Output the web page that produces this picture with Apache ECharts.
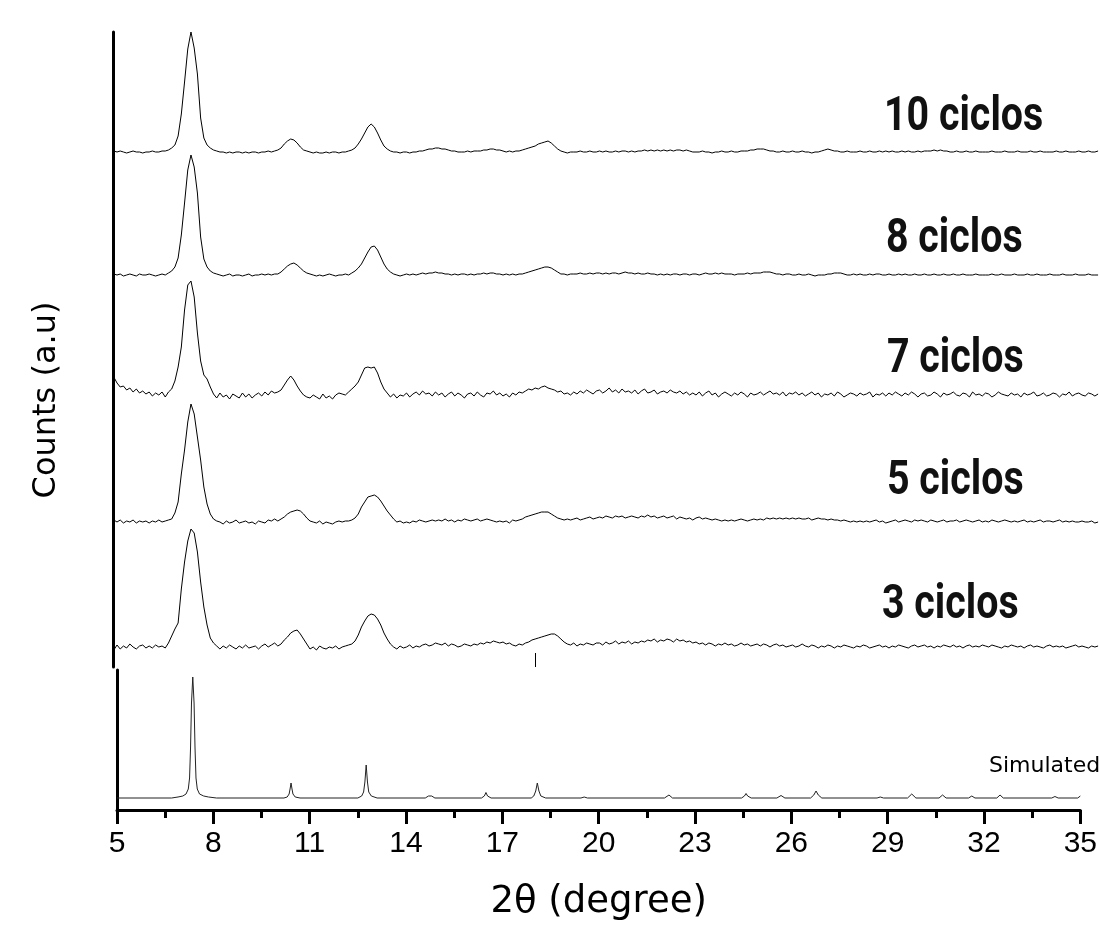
<!DOCTYPE html>
<html>
<head>
<meta charset="utf-8">
<script src="https://cdn.jsdelivr.net/npm/echarts@6/dist/echarts.min.js"></script>
<style>html,body{margin:0;padding:0;background:#fff}#c{width:1100px;height:928px}</style>
</head>
<body>
<div id="c"></div>
<script>
// Measurement grid of the experimental patterns (2θ, degrees)
const scanStart = 4.9;
const scanStep = 0.1;

// Experimental patterns: intensity above each pattern's baseline (a.u.), 4.9° .. 35.5°
const ciclos10 = [
1,
0, 1, 0, -1, 0, 1, 0, 0, -1, 0,
0, 1, 0, 0, 1, 1, 2, 4, 7, 16,
38, 70, 103, 120, 104, 78, 34, 14, 7, 4,
2, 1, 0, 0, -1, 0, -1, 0, 0, -1,
0, -1, 0, 0, -1, 0, 0, 1, 0, 1,
2, 4, 8, 11, 13, 12, 9, 5, 2, 1,
0, -1, 0, -1, -1, 0, -1, 0, 0, -1,
0, 0, 1, 2, 4, 8, 13, 19, 25, 28,
25, 19, 12, 6, 3, 1, 0, 0, -1, 0,
0, -1, 0, 0, 1, 1, 2, 3, 3, 4,
4, 3, 3, 2, 1, 1, 0, 0, 0, 1,
0, 1, 1, 1, 2, 2, 3, 3, 2, 2,
1, 0, 1, 0, 1, 1, 2, 3, 4, 5,
6, 8, 9, 10, 11, 9, 6, 3, 1, 0,
-1, 0, 0, 0, 1, 0, 0, 1, 0, 0,
1, 0, 1, 0, 0, 1, 0, 1, 1, 0,
1, 0, 1, 1, 2, 1, 2, 1, 2, 1,
2, 1, 2, 1, 2, 2, 1, 2, 1, 0,
0, 0, 1, 0, 0, -1, 0, 0, 1, 0,
0, 1, 0, 0, 1, 1, 1, 2, 2, 3,
3, 3, 2, 1, 1, 0, 0, 1, 0, 0,
1, 0, 0, 1, 0, 0, -1, 0, 0, 1,
2, 3, 2, 1, 1, 0, 0, 1, 0, 0,
0, 1, 0, 0, 1, 0, 0, 1, 0, 1,
0, 1, 0, 0, 1, 0, 1, 0, 0, 1,
0, 1, 1, 1, 2, 1, 2, 1, 1, 0,
0, 1, 0, 0, 1, 0, 0, 1, 0, 0,
0, 0, 1, 0, 0, 0, 1, 0, 0, 0,
1, 0, 0, 0, 1, 0, 0, 1, 0, 0,
0, 0, 1, 0, 0, 1, 0, 0, 0, 1,
0, 0, 1, 0, 0, 1
];

const ciclos8 = [
1,
0, 1, -1, 0, 1, 0, -1, 1, 0, 0,
1, 0, -1, 0, 1, 0, 2, 4, 8, 17,
40, 72, 105, 120, 108, 82, 38, 16, 8, 4,
2, 1, 0, -1, 0, 1, -1, 0, 0, -1,
0, 1, -1, 0, 0, 1, 0, 1, 0, 1,
1, 3, 6, 9, 11, 12, 10, 7, 4, 2,
1, 0, -1, 0, -1, 0, 1, 0, -1, 0,
0, 1, 0, 2, 4, 7, 11, 17, 23, 28,
29, 25, 18, 11, 6, 3, 1, 0, -1, 0,
1, 0, 1, 0, 1, 2, 1, 2, 2, 3,
2, 2, 1, 1, 0, 1, 0, 1, 1, 0,
1, 0, 1, 1, 2, 1, 2, 2, 1, 1,
0, 1, 0, 1, 0, 1, 1, 2, 3, 4,
5, 6, 7, 8, 8, 7, 5, 3, 1, 1,
0, 1, 1, 1, 2, 1, 1, 2, 1, 2,
2, 1, 2, 1, 2, 2, 1, 2, 3, 2,
2, 1, 2, 1, 1, 2, 1, 1, 0, 1,
0, 1, 0, 1, 1, 0, 1, 1, 0, 1,
1, 0, 1, 2, 1, 1, 2, 1, 2, 1,
1, 1, 0, 1, 1, 1, 2, 1, 2, 2,
2, 3, 3, 3, 2, 1, 1, 0, 1, 1,
0, 0, 1, 0, 0, 1, 0, -1, 0, 0,
0, 1, 1, 2, 2, 2, 1, 0, 0, 1,
0, 1, 0, 0, 1, 0, 1, 1, 0, 0,
1, 0, 0, 1, 0, 1, 0, 0, 1, 0,
0, 1, 0, 0, 1, 0, 0, 1, 0, 0,
1, 0, 0, 1, 0, 0, 0, 1, 0, 0,
0, 0, 1, 0, 0, 1, 0, 0, 0, 1,
0, 0, 0, 1, 0, 0, 1, 0, 0, 0,
1, 0, 0, 0, 1, 0, 0, 0, 1, 0,
0, 0, 1, 0, 0, 0
];

const ciclos7 = [
18,
12, 8, 9, 5, 7, 3, 6, 2, 4, 1,
3, -1, 2, 0, 3, -2, 3, 6, 14, 28,
48, 85, 110, 114, 98, 62, 34, 20, 16, 8,
1, -3, 2, -2, 0, -4, 1, -1, -3, 2,
-2, 1, -3, 0, 2, -1, 3, 0, 4, 2,
3, 5, 10, 15, 19, 15, 9, 4, 0, -2,
-3, 0, -2, -4, 1, -3, -1, -4, 0, 2,
1, 0, 3, 6, 9, 13, 20, 27, 28, 27,
28, 22, 13, 6, 2, -2, 1, -3, 0, -1,
2, -2, 1, 3, 0, 4, 1, 2, -1, 3,
0, 2, -2, 1, 3, -1, 2, 0, -3, 1,
2, -1, 3, 0, -2, 2, 1, 4, 0, 2,
-1, 1, -2, 2, 0, 3, 2, 4, 6, 5,
7, 6, 8, 9, 7, 6, 5, 3, 4, 1,
2, 0, 3, 1, 4, 2, 5, 3, 1, 4,
5, 2, 4, 7, 3, 5, 2, 6, 3, 4,
2, 5, 1, 4, 6, 2, 3, 5, 1, 3,
4, 2, 5, 3, 2, 4, 1, 3, 0, 2,
0, 3, -1, 2, 4, 0, 2, -2, 1, 3,
1, -1, 2, 0, 3, 1, -2, 2, 0, 1,
3, 0, 2, 4, 1, 2, 0, 3, -1, 2,
1, 3, 0, 2, -1, 1, 3, 0, 2, -2,
1, 0, 2, -1, 3, 1, -2, 0, 2, 1,
-1, 2, 0, 1, 3, -2, 1, 0, 2, -1,
2, 0, 3, 1, -1, 2, 0, 3, 1, -2,
1, 2, -1, 0, 3, 1, -2, 2, 0, 1,
3, 0, -1, 2, 1, -2, 3, 0, 1, -1,
2, 1, -2, 0, 3, 1, 0, -1, 2, 0,
1, -2, 2, 0, 1, 3, -1, 0, 2, -1,
0, 2, 1, -2, 1, 0, 3, -1, 1, 2,
0, -1, 2, 1, -1, 1
];

const ciclos5 = [
2,
0, 2, -1, 1, 0, 2, -1, 1, 0, 1,
-1, 1, 0, 2, 0, 1, 2, 3, 9, 20,
48, 72, 100, 118, 108, 85, 62, 35, 18, 8,
3, 1, 0, -2, 1, -1, 0, 2, -1, 0,
1, -1, 0, -2, 1, 0, -1, 2, 1, 3,
1, 3, 5, 8, 10, 11, 12, 11, 8, 4,
1, 0, -1, 1, -2, 0, -1, -2, 0, 1,
0, 1, 1, 2, 4, 8, 15, 20, 25, 26,
27, 25, 21, 16, 11, 7, 3, 0, 1, -1,
0, -1, 1, 0, 2, 1, 0, 1, 2, 1,
2, 1, 3, 1, 2, 0, 2, 1, 3, 2,
1, 2, 3, 1, 2, 3, 2, 1, 0, 1,
0, 1, -1, 2, 1, 2, 3, 5, 6, 7,
8, 9, 10, 10, 10, 8, 6, 4, 3, 2,
3, 2, 3, 4, 2, 3, 4, 5, 3, 4,
5, 4, 6, 5, 4, 6, 5, 6, 4, 5,
6, 5, 4, 6, 5, 7, 5, 6, 4, 5,
6, 4, 5, 6, 3, 5, 4, 3, 4, 2,
4, 5, 3, 4, 3, 2, 3, 2, 1, 2,
1, 2, 1, 2, 3, 2, 1, 2, 3, 2,
3, 2, 4, 3, 4, 3, 4, 3, 4, 3,
4, 3, 4, 3, 3, 4, 2, 3, 4, 3,
3, 2, 3, 2, 2, 1, 2, 1, 0, 1,
0, 1, 0, 1, 0, 1, 2, 0, 1, -1,
0, 1, 2, 0, 1, 2, 1, 0, 2, 1,
2, 1, 0, 2, 1, 0, 1, 2, 0, 1,
1, 2, 0, 1, 2, 1, 0, 1, 2, 0,
1, 0, 2, 1, 0, 1, 2, 1, 0, 1,
0, 1, 2, 0, 1, 0, 1, 2, 0, 1,
1, 0, 1, 2, 0, 1, 0, 1, 0, 0,
1, 0, 0, 1, -1, 0
];

const ciclos3 = [
-3,
2, -2, 1, -1, 3, 0, -2, 1, 2, -1,
1, -1, 2, 0, 1, -1, 4, 11, 18, 24,
58, 85, 106, 118, 114, 95, 65, 40, 22, 9,
4, 1, -2, 1, -1, 2, 0, -2, 1, -1,
2, -1, 0, 1, -2, 1, 3, 0, 2, 4,
1, 3, 7, 10, 14, 16, 17, 13, 8, 3,
-2, 0, -3, 1, -1, -2, 0, -1, 1, -2,
0, 1, 2, 3, 6, 12, 20, 26, 31, 33,
32, 28, 22, 14, 8, 3, 0, -2, 1, -1,
0, 2, -1, 1, 0, 2, 3, 1, 2, 4,
3, 2, 4, 1, 3, 2, 0, 1, 3, 2,
1, 3, 2, 4, 3, 5, 4, 6, 5, 4,
5, 3, 4, 2, 1, 3, 2, 4, 5, 7,
8, 9, 10, 11, 12, 13, 13, 11, 8, 5,
3, 2, 4, 1, 3, 2, 4, 3, 2, 4,
4, 2, 5, 3, 4, 6, 3, 5, 4, 6,
3, 5, 4, 6, 5, 7, 6, 8, 5, 7,
6, 8, 7, 5, 8, 6, 7, 5, 6, 4,
5, 3, 4, 2, 4, 3, 1, 3, 2, 4,
2, 3, 1, 2, 4, 2, 3, 1, 2, 3,
1, 3, 2, 0, 2, 3, 1, 2, 0, 1,
2, 0, 1, 3, 1, 0, 2, 1, -1, 1,
0, 2, 1, -1, 1, 0, 2, 1, 0, -1,
1, 0, 2, 1, -1, 0, 1, 2, 0, 1,
-1, 1, 0, 2, 1, 0, -1, 1, 2, 0,
1, 2, 0, 1, -1, 1, 0, 2, 1, 0,
2, 0, 1, -1, 1, 2, 0, 1, 0, 2,
1, 0, 2, 1, 0, -1, 1, 0, 2, 1,
0, 1, -1, 1, 2, 0, 1, 0, -1, 1,
2, 0, 1, 0, 1, -1, 0, 1, 2, 0,
1, 0, -1, 1, 0, 1
];

// Stacking offsets (a.u.) of each experimental pattern
const patternNames = ['10 ciclos', '8 ciclos', '7 ciclos', '5 ciclos', '3 ciclos'];
const patternOffsets = [515, 392, 272, 145, 20];

// Simulated pattern: [2θ, intensity]
const simulated = [
[5.0, 0], [6.7, 0], [6.9, 1], [7.05, 2], [7.15, 4], [7.22, 9], [7.26, 20], [7.29, 50], [7.32, 95], [7.36, 121],
[7.40, 95], [7.43, 50], [7.46, 20], [7.50, 9], [7.57, 4], [7.7, 2], [7.85, 1], [8.1, 0],
[10.2, 0], [10.3, 1], [10.36, 4], [10.39, 9], [10.42, 15], [10.45, 9], [10.48, 4], [10.55, 1], [10.7, 0],
[12.5, 0], [12.62, 2], [12.68, 6], [12.72, 16], [12.76, 33], [12.80, 16], [12.84, 6], [12.92, 2], [13.1, 0],
[14.6, 0], [14.7, 2], [14.75, 4], [14.8, 2], [14.9, 0],
[16.35, 0], [16.44, 2], [16.49, 5.5], [16.54, 2], [16.65, 0],
[17.9, 0], [17.98, 2], [18.04, 7], [18.09, 15], [18.14, 7], [18.2, 2], [18.35, 0],
[19.45, 0], [19.55, 1], [19.65, 0],
[22.05, 0], [22.19, 3], [22.3, 0],
[24.45, 0], [24.54, 2], [24.59, 4.5], [24.64, 2], [24.75, 0],
[25.55, 0], [25.68, 2.5], [25.8, 0],
[26.6, 0], [26.7, 3], [26.77, 7], [26.84, 3], [26.95, 0],
[28.67, 0], [28.77, 1], [28.87, 0],
[29.62, 0], [29.75, 4], [29.88, 0],
[30.6, 0], [30.71, 3], [30.82, 0],
[31.52, 0], [31.62, 2], [31.72, 0],
[32.4, 0], [32.5, 3], [32.6, 0],
[34.11, 0], [34.21, 1.5], [34.31, 0],
[34.92, 0], [35.0, 2]
];

// Axis ticks
const xMin = 5, xMax = 35, xInterval = 3;
const simLabel = 'Simulated';

const patterns = [ciclos10, ciclos8, ciclos7, ciclos5, ciclos3];

const chart = echarts.init(document.getElementById('c'), null, {renderer: 'canvas'});

// upper panel shares the px/degree of the lower axis; left edge of upper panel is 4 px left of 5°
const pxPerDeg = (1100 - 117 - 18) / (xMax - xMin);
const upMin = xMin - 4 / pxPerDeg;
const upMax = upMin + 987 / pxPerDeg;

const series = patterns.map((arr, k) => ({
  name: patternNames[k],
  type: 'line',
  xAxisIndex: 0, yAxisIndex: 0,
  showSymbol: false, symbol: 'none',
  lineStyle: {color: '#000', width: 1},
  silent: true,
  data: arr.map((v, i) => [Math.round((scanStart + i * scanStep) * 100) / 100, v + patternOffsets[k]])
}));

series[4].markLine = {
  silent: true, symbol: 'none', label: {show: false},
  lineStyle: {color: '#000', width: 1, type: 'solid'},
  data: [[{coord: [18.0, 0]}, {coord: [18.0, 14]}]]
};

series.push({
  name: simLabel,
  type: 'line',
  xAxisIndex: 1, yAxisIndex: 1,
  showSymbol: false, symbol: 'none',
  lineStyle: {color: '#222', width: 1},
  silent: true,
  data: simulated
});

const labelYs = [118, 240, 360, 482, 606];
const labelXs = [884, 886, 887, 887, 882];
const labelFont = "bold 48px Roboto, 'DejaVu Sans', sans-serif";

const graphics = patternNames.map((n, k) => ({
  type: 'text', x: labelXs[k], y: labelYs[k], scaleX: 0.82, scaleY: 1, silent: true,
  style: {text: n, font: labelFont, fill: '#111', textAlign: 'left', textVerticalAlign: 'middle', align: 'left', verticalAlign: 'middle'}
}));
graphics.push({
  type: 'text', x: 989, y: 766, silent: true,
  style: {text: simLabel, font: "22px 'DejaVu Sans', sans-serif", fill: '#000', textAlign: 'left', textVerticalAlign: 'middle', align: 'left', verticalAlign: 'middle'}
});
graphics.push({
  type: 'text', x: 47, y: 400, rotation: Math.PI / 2, silent: true,
  style: {text: 'Counts (a.u)', font: "32px 'DejaVu Sans', sans-serif", fill: '#000', textAlign: 'center', textVerticalAlign: 'middle', align: 'center', verticalAlign: 'middle'}
});

chart.setOption({
  animation: false,
  backgroundColor: '#fff',
  grid: [
    {left: 113, right: 0, top: 32, bottom: 261},
    {left: 117, right: 18, top: 670, bottom: 118}
  ],
  xAxis: [
    {type: 'value', gridIndex: 0, min: upMin, max: upMax, show: false},
    {type: 'value', gridIndex: 1, min: xMin, max: xMax, interval: xInterval,
     axisLine: {show: true, onZero: false, lineStyle: {color: '#000', width: 3}},
     axisTick: {show: true, inside: false, length: 14, lineStyle: {color: '#000', width: 3}},
     minorTick: {show: true, splitNumber: 2, length: 8, lineStyle: {color: '#000', width: 3}},
     splitLine: {show: false}, minorSplitLine: {show: false},
     axisLabel: {show: true, margin: 19, color: '#000', fontSize: 30, fontFamily: "'Liberation Sans', Arial, sans-serif", showMinLabel: true, showMaxLabel: true, hideOverlap: false},
     name: '2θ (degree)', nameLocation: 'middle', nameGap: 74,
     nameTextStyle: {color: '#000', fontSize: 37, fontFamily: "'DejaVu Sans', sans-serif"}
    }
  ],
  yAxis: [
    {type: 'value', gridIndex: 0, min: 0, max: 635,
     axisLine: {show: true, lineStyle: {color: '#000', width: 3}},
     axisTick: {show: false}, axisLabel: {show: false}, splitLine: {show: false}},
    {type: 'value', gridIndex: 1, min: -12, max: 128,
     axisLine: {show: true, onZero: false, lineStyle: {color: '#000', width: 3}},
     axisTick: {show: false}, axisLabel: {show: false}, splitLine: {show: false}}
  ],
  graphic: graphics,
  series: series
});
</script>
</body>
</html>
